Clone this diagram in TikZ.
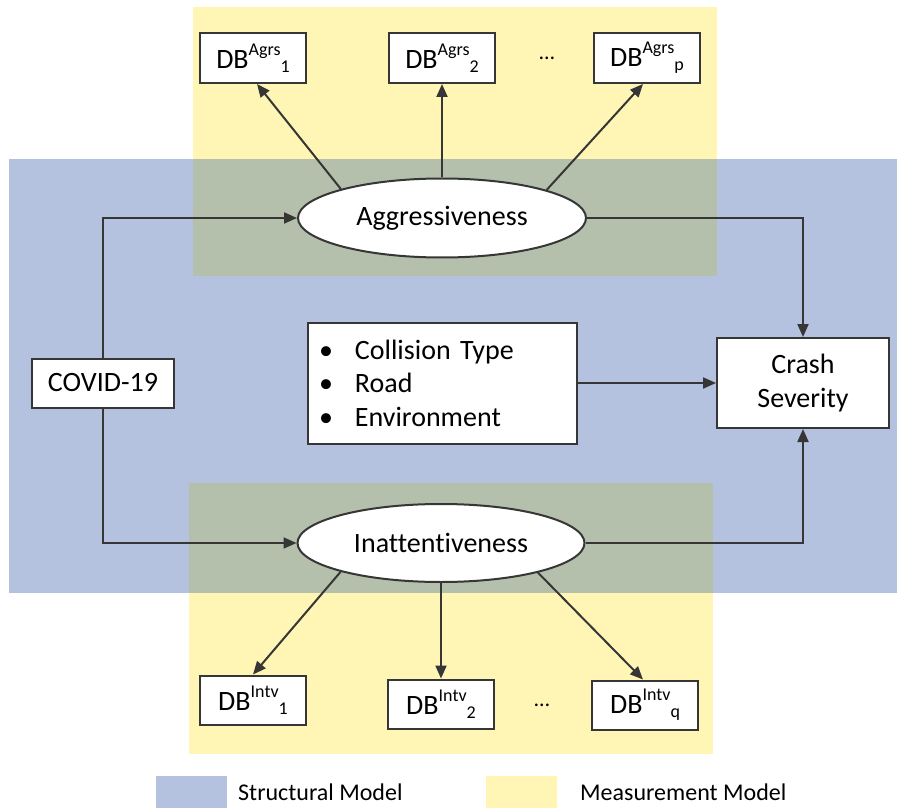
\documentclass[tikz,border=0pt]{standalone}
\usepackage{fontspec}
\setmainfont{Carlito}[Ligatures=NoCommon]
\usetikzlibrary{shapes.geometric,arrows.meta}
\definecolor{structblue}{HTML}{B4C2E0}
\definecolor{measyellow}{HTML}{FFF5B5}
\definecolor{overlapc}{HTML}{B4C0AB}
\definecolor{lc}{HTML}{363636}
\newcommand{\fsz}{\fontsize{28}{33.5}\selectfont}
\newcommand{\dblab}[2]{DB\raisebox{13pt}{\fontsize{18}{18}\selectfont #1}\raisebox{-4pt}{\fontsize{18}{18}\selectfont #2}}
\tikzset{
  box/.style={draw=lc, line width=2pt, fill=white, inner sep=0pt, font=\fsz},
  dbbox/.style={box, minimum width=106pt, minimum height=50pt},
  latent/.style={ellipse, draw=lc, line width=2pt, fill=white, minimum width=288pt, minimum height=79pt, inner sep=0pt, font=\fsz},
  conn/.style={draw=lc, line width=2pt, -{Triangle[length=13pt,width=11pt]}},
  dotsty/.style={font=\fontsize{22}{22}\selectfont, inner sep=0pt},
  legtext/.style={font=\fontsize{24}{24}\selectfont, inner sep=0pt, anchor=base west},
  swatch/.style={minimum width=71pt, minimum height=32pt, inner sep=0pt},
}
\begin{document}
\begin{tikzpicture}[x=1pt,y=-1pt]
\useasboundingbox (0,0) rectangle (899,810);
% background regions
\fill[structblue] (9,159) rectangle (897,593);
\fill[measyellow] (193,7) rectangle (717,276);
\fill[measyellow] (189,483) rectangle (713,754);
\fill[overlapc] (193,159) rectangle (717,276);
\fill[overlapc] (189,483) rectangle (713,593);

% nodes
\node[dbbox] (db1) at (253,58) {\dblab{Agrs}{1}};
\node[dbbox] (db2) at (442,58) {\dblab{Agrs}{2}};
\node[dbbox] (dbp) at (647,58) {\dblab{Agrs}{p}};
\node[dotsty] (dtop) at (547,58) {…};

\node[latent] (agg) at (442,218) {Aggressiveness};
\node[latent, minimum width=287pt, minimum height=78pt] (inatt) at (441,543) {Inattentiveness};

\node[box, minimum width=142pt, minimum height=49pt] (covid) at (103,383) {COVID-19};
\node[box, minimum width=269pt, minimum height=121pt, text width=247pt, inner xsep=11pt, align=left] (fac) at (442.5,383)
  {\makebox[36pt][l]{•}Collision Type\\\makebox[36pt][l]{•}Road\\\makebox[36pt][l]{•}Environment};
\node[box, minimum width=172pt, minimum height=90pt, align=center] (crash) at (803,383) {Crash\\Severity};

\node[dbbox, minimum height=49pt] (dbi1) at (253,700) {\dblab{Intv}{1}};
\node[dbbox, minimum height=49pt] (dbi2) at (441,704) {\dblab{Intv}{2}};
\node[dbbox, minimum height=49pt] (dbiq) at (645,705) {\dblab{Intv}{q}};
\node[dotsty] (dbot) at (542,705) {…};

% connectors
\draw[conn] (agg.164.6) -- ([xshift=4pt]db1.south);
\draw[conn] (agg.north) -- (db2.south);
\draw[conn] (agg.15.2) -- ([xshift=-4pt]dbp.south);
\draw[conn] (inatt.196.4) -- (dbi1.north);
\draw[conn] (inatt.south) -- (dbi2.north);
\draw[conn] (inatt.343.8) -- ([xshift=-2pt]dbiq.north);
\draw[conn] (covid.north) |- (agg.west);
\draw[conn] (covid.south) |- (inatt.west);
\draw[conn] (agg.east) -| (crash.north);
\draw[conn] (inatt.east) -| (crash.south);
\draw[conn] (fac.east) -- (crash.west);

% legend
\node[swatch, fill=structblue] (lgb) at (191.5,792) {};
\node[legtext] (lgbt) at (238,800) {Structural Model};
\node[swatch, fill=measyellow] (lgy) at (521,792) {};
\node[legtext] (lgyt) at (580,800) {Measurement Model};
\end{tikzpicture}
\end{document}
